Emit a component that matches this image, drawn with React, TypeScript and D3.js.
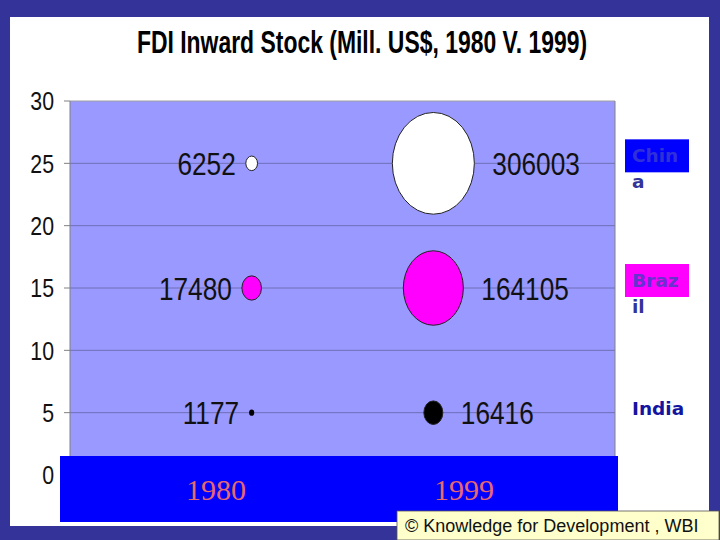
import React from "react";
import * as d3 from "d3";

const years = ["1980", "1999"];
const countries = ["China", "Brazil", "India"];
const countryLevel = [25, 15, 5];
const fdi1980 = [6252, 17480, 1177];
const fdi1999 = [306003, 164105, 16416];
const yTicks = [0, 5, 10, 15, 20, 25, 30];
const bubbleFill = ["#ffffff", "#ff00ff", "#000000"];
const legendLines = [["Chin", "a"], ["Braz", "il"], ["India"]];

const W = 720;
const H = 540;
const plot = { left: 70, right: 615, top: 101, bottom: 475 };
const sans = "'Liberation Sans', Arial, sans-serif";

// no narrow face installed, so squeeze Arial-like glyphs horizontally
const Narrow: React.FC<{
  x: number;
  y: number;
  size: number;
  anchor?: "start" | "middle" | "end";
  children: React.ReactNode;
}> = ({ x, y, size, anchor = "start", children }) => (
  <g transform={`translate(${x},${y}) scale(0.82,1)`}>
    <text textAnchor={anchor} dy="0.36em" fontFamily={sans} fontSize={size} fill="#111">
      {children}
    </text>
  </g>
);

const App: React.FC = () => {
  const x = d3.scaleLinear().domain([0, 3]).range([plot.left, plot.right]);
  const y = d3.scaleLinear().domain([0, 30]).range([plot.bottom, plot.top]);
  const r = d3.scaleSqrt().domain([0, 306003]).range([0, 41]);
  const stretch = 1.24;

  const series = [fdi1980, fdi1999];

  return (
    <svg width={W} height={H} style={{ position: "absolute", left: 0, top: 0 }}>
      <rect x={0} y={0} width={W} height={H} fill="#333399" />
      <rect x={10} y={17} width={699} height={509} fill="#ffffff" />

      <g transform="translate(362,53) scale(0.74,1)">
        <text textAnchor="middle" fontFamily={sans} fontWeight="bold" fontSize={31} fill="#000">
          FDI Inward Stock (Mill. US$, 1980 V. 1999)
        </text>
      </g>

      {/* plot area */}
      <rect
        x={plot.left}
        y={plot.top}
        width={plot.right - plot.left}
        height={plot.bottom - plot.top}
        fill="#9999ff"
      />
      {yTicks.map((t) => (
        <g key={t}>
          {t > 0 && t < 30 && (
            <line x1={plot.left} x2={plot.right} y1={y(t)} y2={y(t)} stroke="#6f6fb8" strokeWidth={1} />
          )}
          <line x1={plot.left - 6} x2={plot.left} y1={y(t)} y2={y(t)} stroke="#808080" />
          <Narrow x={54} y={y(t)} size={26} anchor="end">
            {t}
          </Narrow>
        </g>
      ))}
      <line x1={plot.left} x2={plot.right} y1={plot.top} y2={plot.top} stroke="#a0a0a0" />
      <line x1={plot.left} x2={plot.left} y1={plot.top} y2={plot.bottom} stroke="#808080" />
      <line x1={plot.right} x2={plot.right} y1={plot.top} y2={plot.bottom} stroke="#808080" />

      {/* bubbles */}
      {series.map((vals, si) =>
        vals.map((v, ci) => {
          const cx = x(si + 1);
          const cy = y(countryLevel[ci]);
          const rr = r(v);
          return (
            <g key={`${si}-${ci}`}>
              <ellipse
                cx={cx}
                cy={cy}
                rx={rr}
                ry={rr * stretch}
                fill={bubbleFill[ci]}
                stroke={ci === 2 && si === 0 ? "none" : "#222"}
                strokeWidth={1}
              />
              <Narrow
                x={si === 0 ? cx - rr - 10 : cx + rr + 18}
                y={cy}
                size={32}
                anchor={si === 0 ? "end" : "start"}
              >
                {v}
              </Narrow>
            </g>
          );
        })
      )}

      {/* legend */}
      {countries.map((c, ci) => {
        const cy = y(countryLevel[ci]);
        const boxColor = ci === 0 ? "#0000ff" : ci === 1 ? "#ff00ff" : null;
        const topColor = ci === 0 ? "#3030d8" : ci === 1 ? "#6633cc" : "#1414a0";
        const lines = legendLines[ci];
        return (
          <g key={c}>
            {boxColor && <rect x={625} y={cy - 24} width={64} height={33} fill={boxColor} />}
            {lines.map((ln, li) => (
              <text
                key={li}
                x={632}
                y={cy + (lines.length === 1 ? 2 : -1) + li * 26}
                fontFamily="'DejaVu Sans', Verdana, sans-serif"
                fontWeight="bold"
                fontSize={18.5}
                fill={li === 0 ? topColor : "#333399"}
              >
                {ln}
              </text>
            ))}
          </g>
        );
      })}

      {/* category cover */}
      <rect x={60} y={456} width={558} height={66} fill="#0000ff" />
      {years.map((yr, i) => (
        <text
          key={yr}
          x={[216, 464][i]}
          y={500}
          textAnchor="middle"
          fontFamily="'Liberation Serif', 'Times New Roman', serif"
          fontSize={30}
          fill="#e8696b"
        >
          {yr}
        </text>
      ))}

      {/* credit */}
      <rect x={397} y={511} width={322} height={29} fill="#ffffcc" stroke="#555" strokeWidth={0.8} />
      <text x={405} y={532} fontFamily={sans} fontSize={18} fill="#111">
        © Knowledge for Development , WBI
      </text>
    </svg>
  );
};

export default App;
